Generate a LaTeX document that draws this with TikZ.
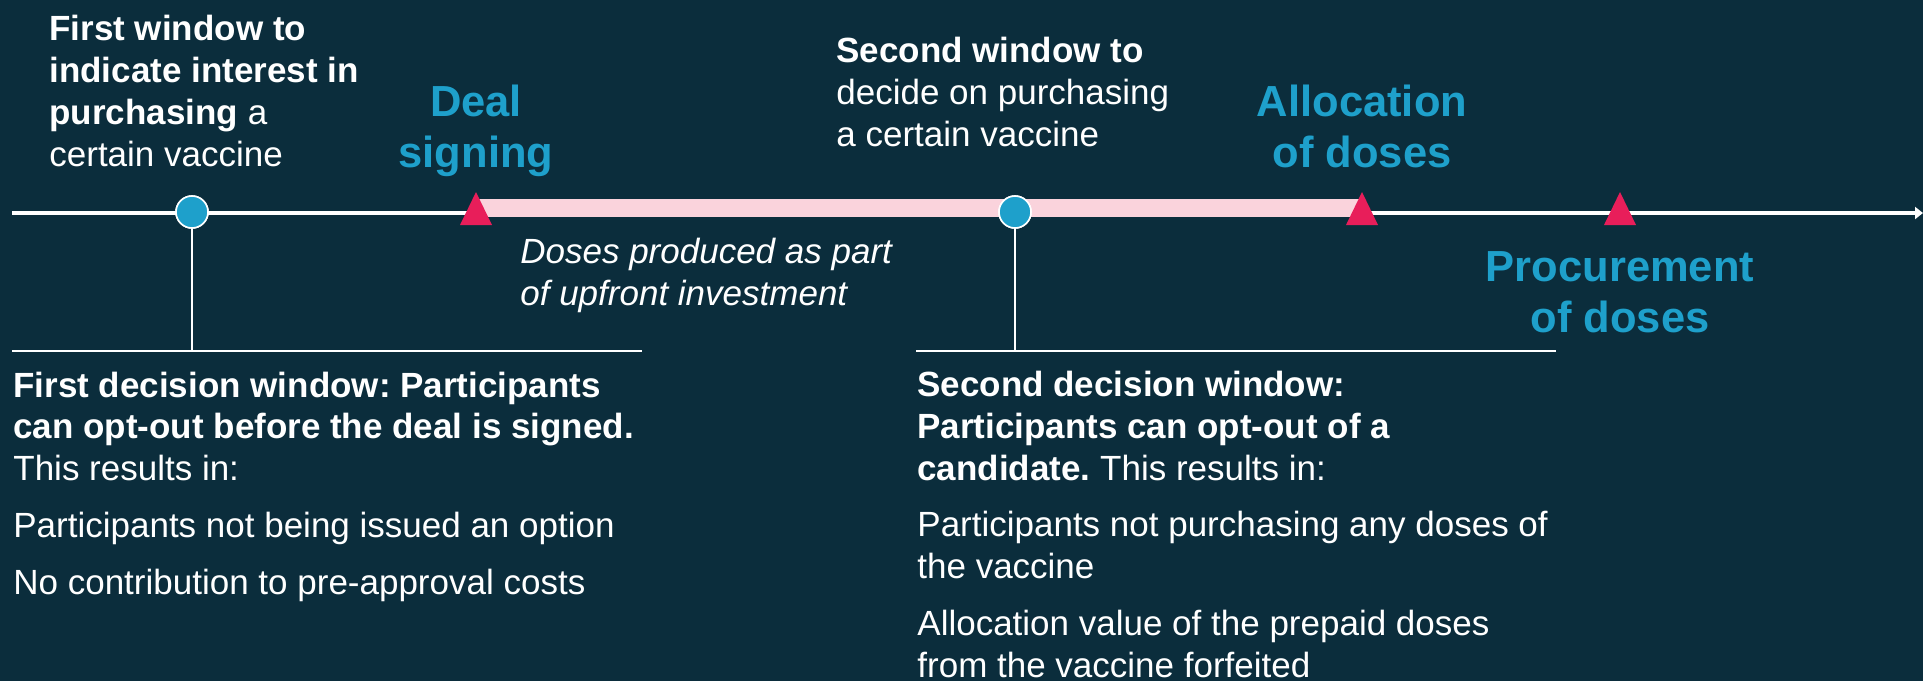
\documentclass[tikz,border=0pt]{standalone}
\usepackage{fontspec}
\setmainfont{Liberation Sans}
\usetikzlibrary{arrows.meta,positioning,calc}
\frenchspacing

\definecolor{bgdark}{RGB}{11,45,60}
\definecolor{barpink}{RGB}{250,211,220}
\definecolor{markred}{RGB}{232,30,90}
\definecolor{dotblue}{RGB}{30,160,203}

\tikzset{
  axis/.style={line width=1.7pt,white},
  rule/.style={line width=1pt,white},
  dot/.style={circle,fill=dotblue,draw=white,line width=0.8pt,minimum size=16pt,inner sep=0pt},
  note/.style={white,inner sep=0pt,align=left,font=\fontsize{17.5}{20.85}\selectfont},
  milestone/.style={dotblue,inner sep=0pt,align=center,font=\fontsize{21.75}{25.5}\selectfont\bfseries},
}

\begin{document}
\begin{tikzpicture}[x=0.5pt,y=-0.5pt]
    % background
    \fill[bgdark] (0,0) rectangle (1923,681);
    \useasboundingbox (0,0) rectangle (1923,681);

    % time axis
    \coordinate (start) at (12,213);
    \coordinate (stop) at (1923,213);
    \draw[axis,-{Triangle[length=4pt,width=6pt]}] (start) -- (stop);

    % milestones on the axis
    \coordinate (deal) at (476,213);
    \coordinate (alloc) at (1362,213);
    \coordinate (proc) at (1620,213);

    % upfront production period
    \fill[barpink] (476,199) rectangle (1362,217);

    % decision windows
    \node[dot] (win1) at (192,212) {};
    \node[dot] (win2) at (1015,212) {};
    \coordinate (rule1a) at (12,351);
    \coordinate (rule1b) at (642,351);
    \coordinate (rule2a) at (916,351);
    \coordinate (rule2b) at (1556,351);
    \draw[rule] (rule1a) -- (rule1b);
    \draw[rule] (rule2a) -- (rule2b);
    \draw[rule] (win1) -- (win1 |- rule1a);
    \draw[rule] (win2) -- (win2 |- rule2a);
    \node[dot] at (win1) {};
    \node[dot] at (win2) {};

    % triangles
    \foreach \m in {deal,alloc,proc}
        \fill[markred] ([shift={(-16,12)}]\m) -- ([shift={(0,-21)}]\m) -- ([shift={(16,12)}]\m) -- cycle;

    % milestone labels (placed by their last baseline)
    \node[milestone,anchor=base] (dealtxt) at (476,167) {Deal\\signing};
    \node[milestone,anchor=base] (alloctxt) at (1362,167) {Allocation\\of doses};
    \node[milestone,anchor=base] (proctxt) at (1620,332) {Procurement\\of doses};

    % window texts above the axis
    \node[note,anchor=base west] (ask1) at (49,166)
        {\textbf{First window to}\\\textbf{indicate interest in}\\\textbf{purchasing} a\\certain vaccine};
    \node[note,anchor=base west] (ask2) at (836,146)
        {\textbf{Second window to}\\decide on purchasing\\a certain vaccine};
    \node[note,anchor=base west,font=\fontsize{17.5}{20.85}\selectfont\itshape] (made) at (520,305)
        {Doses produced as part\\of upfront investment};

    % decision texts below the rules
    \node[note,anchor=base west] (opt1) at (13,594)
        {\textbf{First decision window: Participants}\\\textbf{can opt-out before the deal is signed.}\\This results in:\\[7.5pt]
         Participants not being issued an option\\[7.5pt]No contribution to pre-approval costs};
    \node[note,anchor=base west] (opt2) at (917,677)
        {\textbf{Second decision window:}\\\textbf{Participants can opt-out of a}\\\textbf{candidate.} This results in:\\[7.5pt]
         Participants not purchasing any doses of\\the vaccine\\[7.5pt]Allocation value of the prepaid doses\\from the vaccine forfeited};
\end{tikzpicture}
\end{document}
